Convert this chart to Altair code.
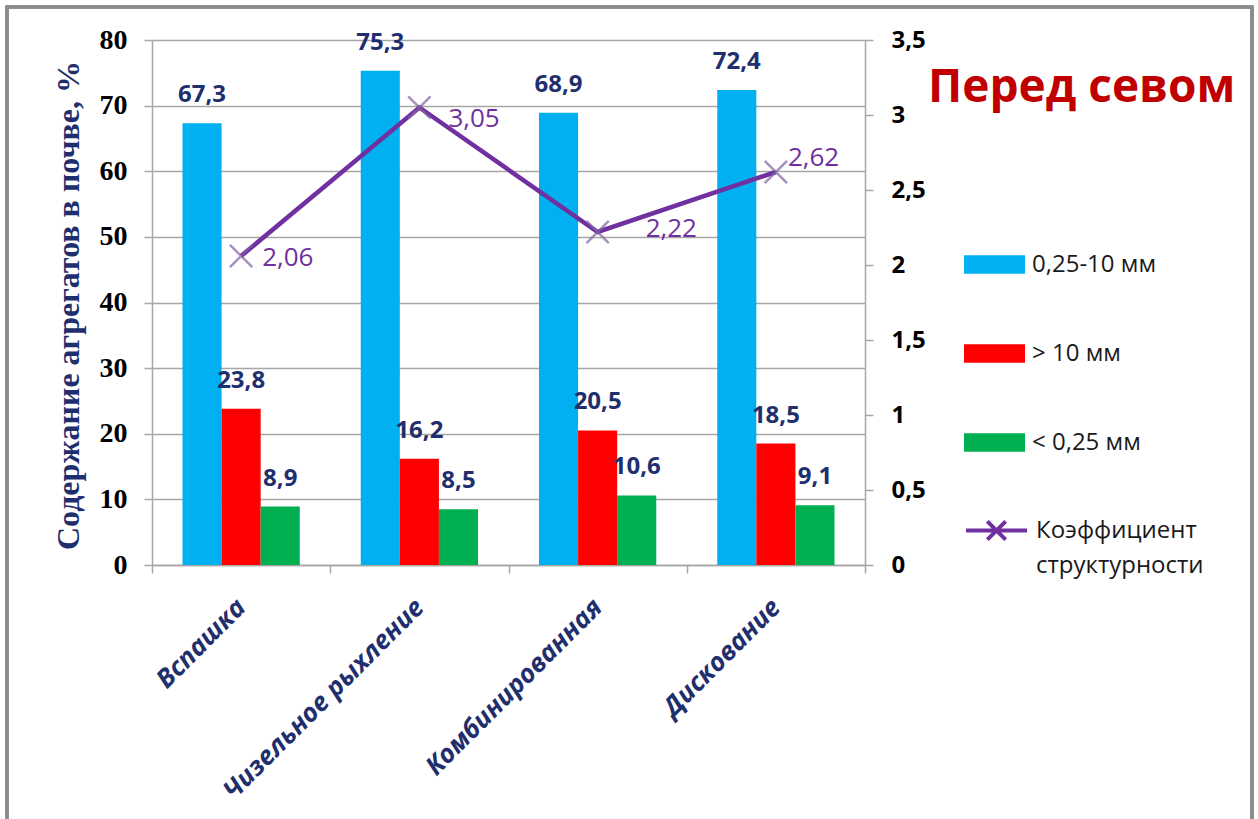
import altair as alt
import pandas as pd

categories = ["Вспашка", "Чизельное рыхление", "Комбинированная", "Дискование"]
series_names = ["0,25-10 мм", "> 10 мм", "< 0,25 мм"]
series_colors = ["#00B0F0", "#FF0000", "#00B050"]
frac_mid = [67.3, 75.3, 68.9, 72.4]
frac_big = [23.8, 16.2, 20.5, 18.5]
frac_small = [8.9, 8.5, 10.6, 9.1]
coef = [2.06, 3.05, 2.22, 2.62]
coef_name = "Коэффициент структурности"
left_ticks = [0, 10, 20, 30, 40, 50, 60, 70, 80]
right_ticks = [0, 0.5, 1, 1.5, 2, 2.5, 3, 3.5]

rows = []
for i, c in enumerate(categories):
    for s, vals in zip(series_names, [frac_mid, frac_big, frac_small]):
        rows.append({"cat": c, "series": s, "value": vals[i],
                     "label": str(vals[i]).replace(".", ",")})
bars_df = pd.DataFrame(rows)
line_df = pd.DataFrame({"cat": categories, "coef": coef,
                        "label": [f"{v:.2f}".replace(".", ",") for v in coef],
                        "name": [coef_name] * len(categories)})

NAVY = "#1F2F6E"
PURPLE = "#7030A0"
GRID = "#A6A6A6"
SANS = "Open Sans"
SERIF = "Liberation Serif"

x_axis = alt.Axis(title=None, labelAngle=-45, labelAlign="right", labelBaseline="middle",
                  labelFont=SANS, labelFontSize=26, labelFontWeight="bold",
                  labelFontStyle="italic", labelColor=NAVY, labelPadding=30,
                  tickBand="extent", tickSize=8, tickColor=GRID, tickWidth=1.5,
                  domainColor=GRID, domainWidth=1.5, grid=False, labelLimit=400)
x_enc = alt.X("cat:N", sort=categories, axis=x_axis,
              scale=alt.Scale(paddingInner=0, paddingOuter=0))

left_axis = alt.Axis(values=left_ticks, title="Содержание агрегатов в почве, %",
                     titleFont=SERIF, titleFontSize=32, titleFontWeight="bold",
                     titleColor=NAVY, titleAngle=-90, titleX=-84, titleY=265,
                     titleAlign="center", titleBaseline="middle",
                     labelFont=SERIF, labelFontSize=28, labelFontWeight="bold",
                     labelColor="black", labelPadding=17,
                     tickSize=8, tickColor=GRID, tickWidth=1.5,
                     domainColor=GRID, domainWidth=1.5,
                     grid=True, gridColor=GRID, gridWidth=1.5)
y_left = alt.Y("value:Q", axis=left_axis, scale=alt.Scale(domain=[0, 80], nice=False))

xoff = alt.XOffset("series:N", sort=series_names,
                   scale=alt.Scale(domain=series_names, paddingOuter=0.78, paddingInner=0))
color = alt.Color("series:N", sort=series_names,
                  scale=alt.Scale(domain=series_names, range=series_colors),
                  legend=alt.Legend(title=None, orient="none", legendX=812, legendY=194,
                                    symbolType="M-1,-0.3H1V0.3H-1Z", symbolSize=3721,
                                    symbolStrokeWidth=0, labelFont=SANS, labelFontSize=24,
                                    labelColor="#1A1A1A", labelOffset=7, rowPadding=46,
                                    padding=0, labelLimit=300))

bars = alt.Chart(bars_df).mark_bar().encode(x=x_enc, y=y_left, xOffset=xoff, color=color)
bar_text = alt.Chart(bars_df).mark_text(
    font=SANS, fontSize=24, fontWeight="bold", color=NAVY, baseline="middle", dy=-28
).encode(x=x_enc, y=y_left, xOffset=xoff, text="label:N")

frame = alt.Chart(bars_df).mark_rect(filled=False, stroke="#8C8C8C", strokeWidth=2.5).encode(
    x=alt.value(-145), x2=alt.value(1100), y=alt.value(-33), y2=alt.value(800))

left = alt.layer(bars, bar_text, frame)

right_axis = alt.Axis(values=right_ticks, orient="right", title=None,
                      labelExpr="replace(toString(datum.value), '.', ',')",
                      labelFont=SANS, labelFontSize=24, labelFontWeight="bold",
                      labelColor="black", labelPadding=18,
                      tickSize=8, tickColor=GRID, tickWidth=1.5,
                      domainColor=GRID, domainWidth=1.5, grid=False)
y_right = alt.Y("coef:Q", axis=right_axis, scale=alt.Scale(domain=[0, 3.5], nice=False))

stroke = alt.Stroke("name:N", scale=alt.Scale(domain=[coef_name], range=[PURPLE]),
                    legend=alt.Legend(title=None, orient="none", legendX=812, legendY=465,
                                      symbolType="M-1,-0.23H1M-0.3,-0.53L0.3,0.07M-0.3,0.07L0.3,-0.53",
                                      symbolSize=3721, symbolStrokeWidth=4,
                                      labelFont=SANS, labelFontSize=24, labelColor="#1A1A1A",
                                      labelOffset=7, padding=0, labelLimit=300,
                                      labelBaseline="alphabetic",
                                      labelExpr="split(datum.label, ' ')"))

line = alt.Chart(line_df).mark_line(strokeWidth=4.5).encode(x=x_enc, y=y_right, stroke=stroke)
pts = alt.Chart(line_df).mark_point(
    shape="M-1,-1L1,1M-1,1L1,-1", size=500, filled=False, color="#8064A2", strokeWidth=2.5
).encode(x=x_enc, y=y_right)

offsets = [(21, 2), (29, 11), (48, -3), (12, -14)]
line_texts = []
for c, (dx, dy) in zip(categories, offsets):
    line_texts.append(
        alt.Chart(line_df).transform_filter(alt.datum.cat == c).mark_text(
            font=SANS, fontSize=26, color=PURPLE, align="left", baseline="middle", dx=dx, dy=dy
        ).encode(x=x_enc, y=y_right, text="label:N"))

right = alt.layer(line, pts, *line_texts)

chart = alt.layer(left, right).resolve_scale(y="independent").properties(
    width=713, height=525,
    autosize=alt.AutoSizeParams(type="none"),
    padding={"left": 152, "top": 40, "right": 393, "bottom": 254},
    title=alt.TitleParams("Перед севом", font=SANS, fontSize=46, fontWeight="bold",
                          color="#C00000", anchor="start", frame="group", dx=776, dy=110),
).configure_view(stroke=None).configure(
    background="white", style={"guide-label": {"lineHeight": 35}})

chart.save("out.html", embed_options={"renderer": "svg", "actions": False})
